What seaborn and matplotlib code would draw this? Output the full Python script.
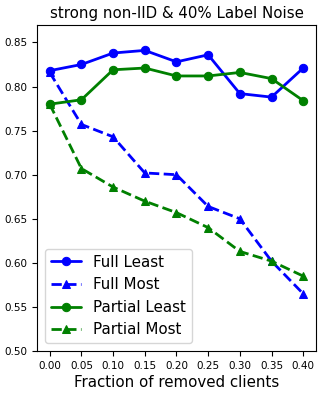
import matplotlib
matplotlib.use("Agg")
import matplotlib.pyplot as plt
import seaborn as sns
import pandas as pd

fractions = [0.00, 0.05, 0.10, 0.15, 0.20, 0.25, 0.30, 0.35, 0.40]
full_least = [0.818, 0.825, 0.838, 0.841, 0.828, 0.836, 0.792, 0.788, 0.821]
full_most = [0.816, 0.757, 0.743, 0.702, 0.700, 0.664, 0.650, 0.602, 0.565]
partial_least = [0.780, 0.785, 0.819, 0.821, 0.812, 0.812, 0.816, 0.809, 0.784]
partial_most = [0.780, 0.707, 0.686, 0.670, 0.657, 0.640, 0.613, 0.602, 0.585]
yticks = [0.50, 0.55, 0.60, 0.65, 0.70, 0.75, 0.80, 0.85]

sns.set_style("ticks", {"axes.edgecolor": "black", "text.color": "black",
                        "xtick.color": "black", "ytick.color": "black",
                        "axes.labelcolor": "black"})
plt.rcParams['font.family'] = ['DejaVu Sans']

fig = plt.figure(figsize=(3.22, 3.94), dpi=100)
ax = fig.add_axes([0.115, 0.109, 0.866, 0.828])

series = [
    ("Full Least", full_least, "blue", "-", "o"),
    ("Full Most", full_most, "blue", "--", "^"),
    ("Partial Least", partial_least, "green", "-", "o"),
    ("Partial Most", partial_most, "green", "--", "^"),
]
for name, vals, color, ls, mk in series:
    df = pd.DataFrame({"x": fractions, "y": vals})
    sns.lineplot(data=df, x="x", y="y", ax=ax, color=color, linestyle=ls,
                 marker=mk, markersize=6, markeredgecolor=color, linewidth=2,
                 label=name)

ax.set_ylim(0.5, 0.87)
ax.set_xlim(-0.02, 0.42)
ax.set_xticks(fractions)
ax.set_xticklabels([f"{v:.2f}" for v in fractions])
ax.set_yticks(yticks)
ax.set_yticklabels([f"{v:.2f}" for v in yticks])
ax.tick_params(labelsize=7.5, length=3.5)
ax.set_title("strong non-IID & 40% Label Noise", fontsize=10.8, pad=5)
ax.set_xlabel("Fraction of removed clients", fontsize=10.8, labelpad=3)
ax.set_ylabel("")
ax.legend(loc="lower left", fontsize=10.9)
fig.savefig("out.png", dpi=100)
